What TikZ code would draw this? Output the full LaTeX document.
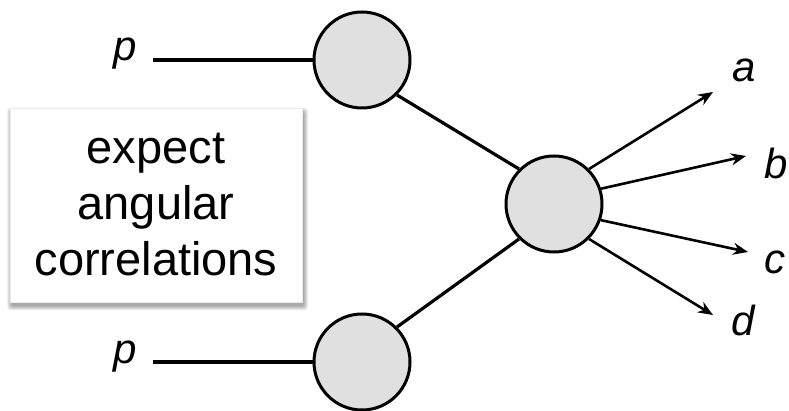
\documentclass[tikz,border=0pt]{standalone}
\usepackage{fontspec}
\setmainfont{Liberation Sans}
\usetikzlibrary{arrows.meta,backgrounds}
\definecolor{blobfill}{HTML}{E0E0E0}
\tikzset{
  blob/.style={circle,draw=black,line width=3pt,fill=blobfill,minimum size=96pt,inner sep=0pt},
  leg/.style={line width=3.2pt},
  outleg/.style={line width=2.6pt,-{Stealth[length=15pt,width=12pt,inset=5pt]}},
  lbl/.style={font=\fontsize{42pt}{44pt}\selectfont\itshape,inner sep=0pt},
  note/.style={fill=white,draw=black!8,line width=0.5pt,minimum width=292pt,minimum height=194pt,align=center,
    font=\fontsize{47pt}{56pt}\selectfont},
  shadowlayer/.style={fill=black,fill opacity=0.08,draw=none,rounded corners=3pt}
}
\begin{document}
\begin{tikzpicture}[x=1pt,y=-1pt]
\useasboundingbox (0,0) rectangle (789,411);
\node[blob] (top) at (362,60) {};
\node[blob] (bot) at (362,362) {};
\node[blob] (mid) at (554,204) {};
\node[lbl] (p1) at (125,54) {p};
\node[lbl] (p2) at (125,357) {p};
\coordinate (s1) at (153,60);
\coordinate (s2) at (153,362);
\draw[leg] (s1) -- (top.west);
\draw[leg] (s2) -- (bot.west);
\draw[leg] (top.-45) -- (mid.135);
\draw[leg] (bot.45) -- (mid.225);
\coordinate (ta) at (713,92);
\coordinate (tb) at (746,156);
\coordinate (tc) at (748,252);
\coordinate (td) at (713,315);
\draw[outleg] (mid.45) -- (ta);
\draw[outleg] (mid.18) -- (tb);
\draw[outleg] (mid.-19) -- (tc);
\draw[outleg] (mid.-45) -- (td);
\node[lbl] (a) at (744,70) {a};
\node[lbl] (b) at (776,163) {b};
\node[lbl] (c) at (775,262) {c};
\node[lbl] (d) at (743,320) {d};
\node[note] (box) at (156,205) {expect\\angular\\correlations};
\begin{scope}[on background layer]
\foreach \i in {0,1,2,3,4}
  \fill[shadowlayer] ([xshift=1.5pt-\i pt,yshift=-4pt-\i pt]box.south west) rectangle ([xshift=1.5pt+\i pt,yshift=-4pt+\i pt]box.north east);
\end{scope}
\end{tikzpicture}
\end{document}
